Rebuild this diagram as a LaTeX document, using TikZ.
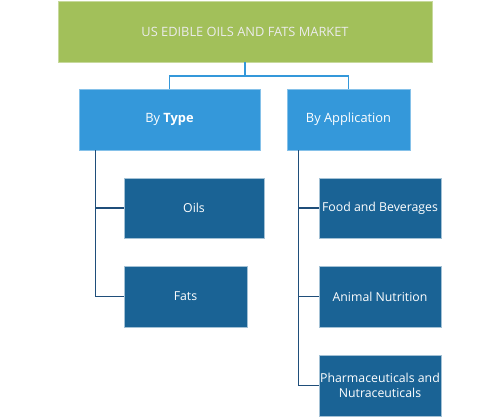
\documentclass[tikz,border=0pt]{standalone}
\usepackage{fontspec}
\setmainfont{Open Sans}
\usepackage{tikz}
\usetikzlibrary{positioning}
\definecolor{titlegreen}{HTML}{A2C05A}
\definecolor{segblue}{HTML}{3498DA}
\definecolor{leafblue}{HTML}{1A6395}
\definecolor{linkblue}{HTML}{1F4E7A}
\tikzset{
  titlebox/.style={rectangle, fill=titlegreen, draw=titlegreen!60!white, line width=0.5pt, minimum width=7.48cm, minimum height=1.22cm, text=white!92!black, font=\fontsize{7.3}{9}\selectfont},
  segbox/.style={rectangle, fill=segblue, draw=segblue!60!white, line width=0.5pt, minimum height=1.22cm, text=white, font=\fontsize{7.3}{9}\selectfont},
  leafbox/.style={rectangle, fill=leafblue, draw=leafblue!40!white, line width=0.5pt, minimum height=1.2cm, inner xsep=0.5pt, text=white, align=center, font=\fontsize{7}{8.6}\selectfont},
  toplink/.style={draw=segblue, line width=0.8pt},
  link/.style={draw=linkblue, line width=0.6pt}
}

\begin{document}
\begin{tikzpicture}
  \useasboundingbox (0,0) rectangle (10,-8.34);
  \node[titlebox] (market) at (4.9,-0.63) {US EDIBLE OILS AND FATS MARKET};
  \node[segbox, minimum width=3.62cm] (bytype) at (3.39,-2.39) {By \textbf{Type}};
  \node[segbox, minimum width=2.46cm] (byapp) at (6.97,-2.39) {By Application};

  \node[leafbox, minimum width=2.8cm] (oils) at (3.88,-4.16) {Oils};
  \node[leafbox, minimum width=2.46cm, minimum height=1.22cm] (fats) at (3.71,-5.93) {Fats};
  \node[leafbox, minimum width=2.44cm] (food) at (7.6,-4.16) {Food and Beverages};
  \node[leafbox, minimum width=2.44cm, minimum height=1.22cm] (animal) at (7.6,-5.93) {Animal Nutrition};
  \node[leafbox, minimum width=2.44cm, minimum height=1.22cm] (pharma) at (7.6,-7.71) {Pharmaceuticals and\\Nutraceuticals};

  \coordinate (split) at (4.9,-1.52);
  \coordinate (typespine) at ([xshift=0.34cm]bytype.south west);
  \coordinate (appspine) at ([xshift=0.24cm]byapp.south west);

  \draw[toplink] (market.south) -- (split);
  \draw[toplink] (split) -| (bytype.north);
  \draw[toplink] (split) -| (byapp.north);

  \draw[link] (typespine) |- (oils.west);
  \draw[link] (typespine) |- (fats.west);
  \draw[link] (appspine) |- (food.west);
  \draw[link] (appspine) |- (animal.west);
  \draw[link] (appspine) |- (pharma.west);
\end{tikzpicture}
\end{document}
